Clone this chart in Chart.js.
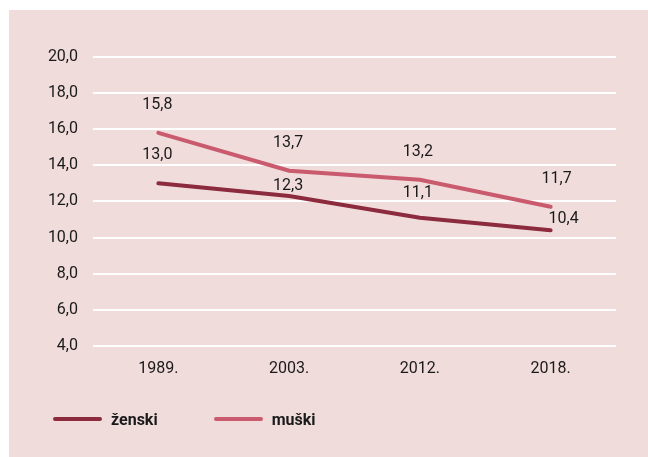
<!DOCTYPE html>
<html>
<head>
<meta charset="utf-8">
<script src="https://cdn.jsdelivr.net/npm/chart.js@4"></script>
<style>
  html, body { margin: 0; padding: 0; background: #ffffff; }
  #panel { position: absolute; left: 9px; top: 10px; width: 639px; height: 447px; background: #f1dcdc; }
  #chart { position: absolute; left: 0; top: 0; }
  #legend { position: absolute; left: 44px; top: 399px; height: 20px; display: flex; align-items: center;
            font-family: Roboto, "Liberation Sans", sans-serif; font-size: 16px; font-weight: bold; color: #1a1a1a; }
  #legend .item { display: flex; align-items: center; margin-right: 56px; }
  #legend .swatch { width: 49px; height: 4px; border-radius: 2px; margin-right: 9px; }
</style>
</head>
<body>
<div id="panel">
  <canvas id="chart" width="639" height="447"></canvas>
  <div id="legend"></div>
</div>
<script>
// godine i vrijednosti
var years = ['1989.', '2003.', '2012.', '2018.'];
var zenski = [13.0, 12.3, 11.1, 10.4];
var muski = [15.8, 13.7, 13.2, 11.7];

// pomaci oznaka (dx, dy) od točke
var labelOffsets = [
    [[-1, -28], [-1, -10], [-2, -25], [13, -11]],
    [[-1, -28], [-1, -28], [-2, -28], [6, -28]]
];

var fontName = 'Roboto, "Liberation Sans", sans-serif';

var valueLabels = {
    id: 'valueLabels',
    afterDatasetsDraw: function (chart) {
        var ctx = chart.ctx;
        ctx.save();
        ctx.font = '16px ' + fontName;
        ctx.fillStyle = '#1a1a1a';
        ctx.textAlign = 'center';
        ctx.textBaseline = 'middle';
        chart.data.datasets.forEach(function (ds, i) {
            chart.getDatasetMeta(i).data.forEach(function (pt, j) {
                var off = labelOffsets[i][j];
                ctx.fillText(ds.data[j].toFixed(1).replace('.', ','), pt.x + off[0], pt.y + off[1]);
            });
        });
        ctx.restore();
    }
};

var options = {
    type: 'line',
    data: {
        labels: years,
        datasets: [
        {
            label: 'ženski',
            data: zenski,
            borderColor: '#8c2a3e',
            backgroundColor: '#8c2a3e',
            borderWidth: 4,
            borderCapStyle: 'round',
            pointRadius: 0,
            tension: 0
        },
        {
            label: 'muški',
            data: muski,
            borderColor: '#ca5a6e',
            backgroundColor: '#ca5a6e',
            borderWidth: 4,
            borderCapStyle: 'round',
            pointRadius: 0,
            tension: 0
        }
        ]
    },
    options: {
        responsive: false,
        animation: false,
        layout: { padding: { left: 0, right: 32, top: 47, bottom: 72 } },
        plugins: {
            tooltip: { enabled: false },
            legend: { display: false }
        },
        scales: {
            x: {
                offset: true,
                grid: { display: false },
                border: { display: false },
                ticks: { color: '#1a1a1a', padding: 6, font: { family: fontName, size: 16 } }
            },
            y: {
                min: 4,
                max: 20,
                ticks: {
                    stepSize: 2,
                    color: '#1a1a1a',
                    padding: 15,
                    font: { family: fontName, size: 16 },
                    callback: function (v) { return v.toFixed(1).replace('.', ','); }
                },
                grid: { color: '#ffffff', lineWidth: 2, drawTicks: false },
                border: { display: false },
                afterFit: function (scale) { scale.width = 84; }
            }
        }
    },
    plugins: [valueLabels]
};

var lineChart = new Chart(document.querySelector('#chart'), options);

// legenda
var legendBox = document.querySelector('#legend');
lineChart.data.datasets.forEach(function (ds) {
    var item = document.createElement('div');
    item.className = 'item';
    var swatch = document.createElement('span');
    swatch.className = 'swatch';
    swatch.style.background = ds.borderColor;
    var text = document.createElement('span');
    text.textContent = ds.label;
    item.appendChild(swatch);
    item.appendChild(text);
    legendBox.appendChild(item);
});
</script>
</body>
</html>
